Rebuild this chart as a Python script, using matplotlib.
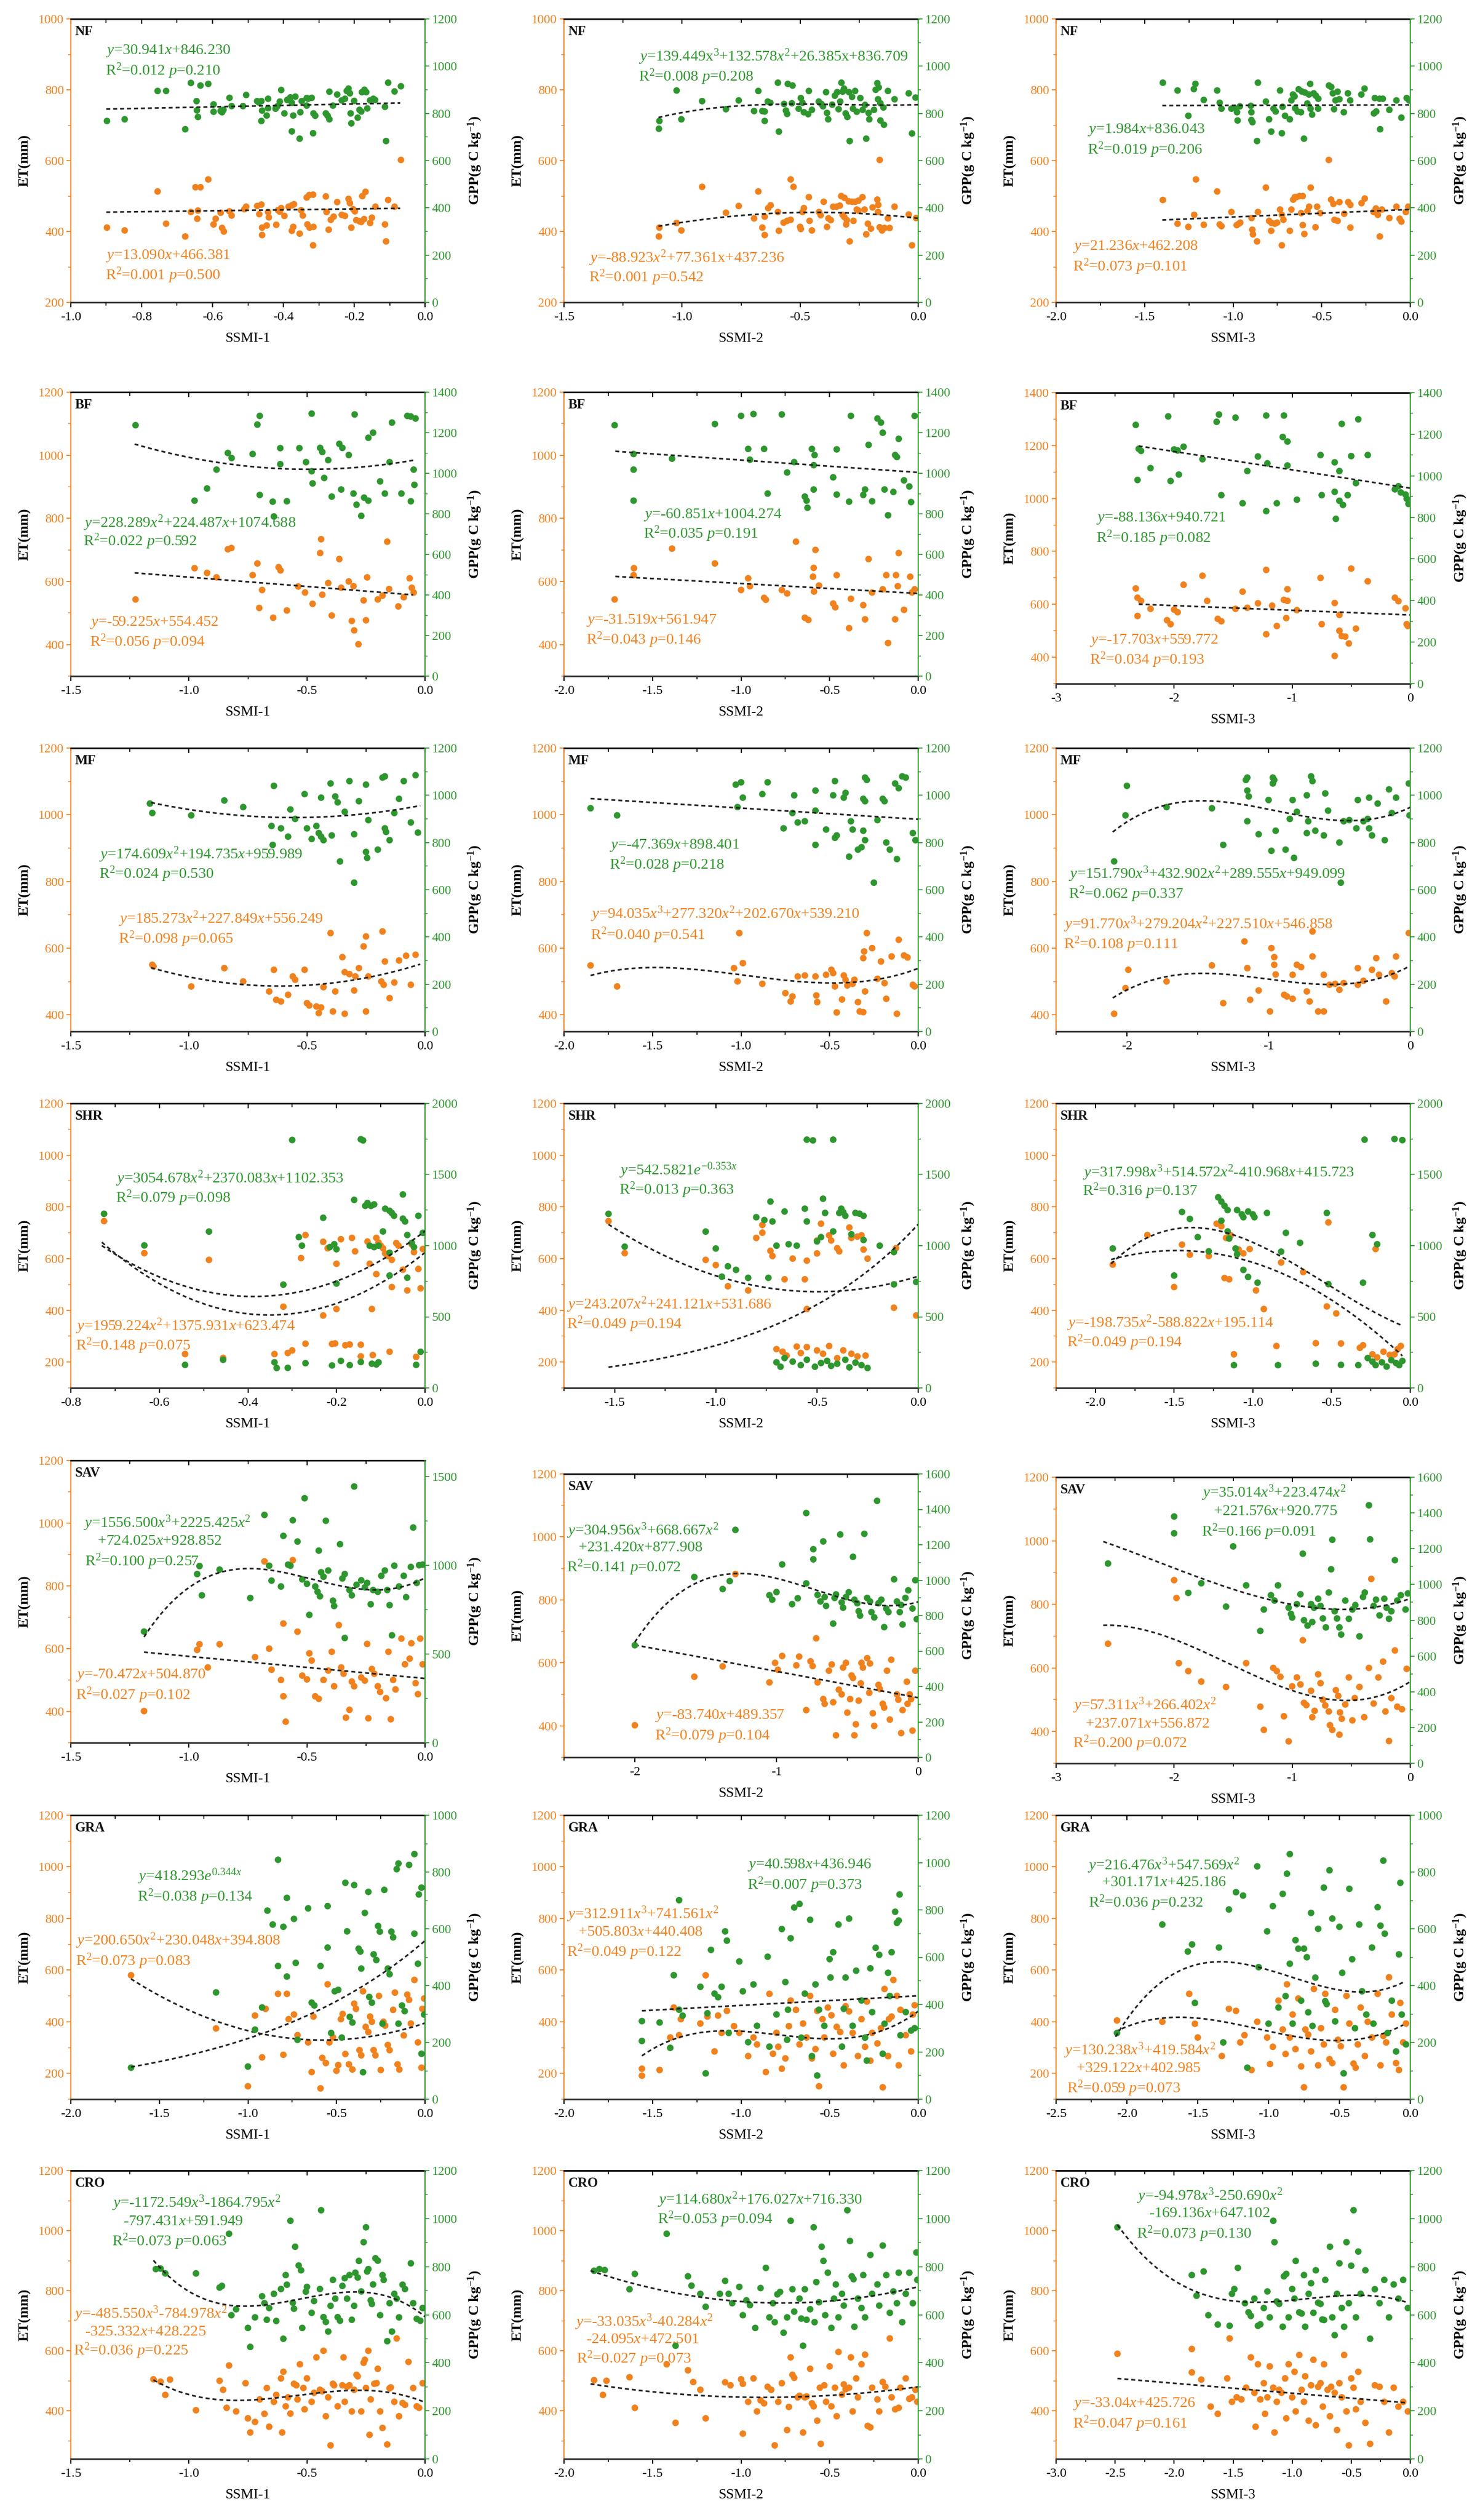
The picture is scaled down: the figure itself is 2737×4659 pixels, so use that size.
import numpy as np
import matplotlib
matplotlib.use('Agg')
import matplotlib.pyplot as plt
from matplotlib.ticker import MultipleLocator, FuncFormatter, NullFormatter

plt.rcParams['font.family'] = ['Liberation Serif', 'DejaVu Serif']
plt.rcParams['mathtext.fontset'] = 'custom'
plt.rcParams['mathtext.rm'] = 'Liberation Serif'
plt.rcParams['mathtext.it'] = 'Liberation Serif:italic'
plt.rcParams['mathtext.bf'] = 'Liberation Serif:bold'
plt.rcParams['axes.unicode_minus'] = False

ORANGE = '#F0821E'
GREEN = '#2E962E'

# ---------------- data: (SSMI, ET) and (SSMI, GPP) ----------------
nf1_et = np.array([[-0.898,411],[-0.848,403],[-0.755,513],[-0.731,422],[-0.677,386],[-0.661,455],[-0.648,525],[-0.634,525],[-0.641,459],[-0.643,436],[-0.612,547],[-0.597,420],[-0.591,436],[-0.577,453],[-0.573,410],[-0.568,400],[-0.552,457],[-0.546,445],[-0.51,463],[-0.505,470],[-0.474,472],[-0.462,476],[-0.468,449],[-0.46,411],[-0.46,390],[-0.447,417],[-0.443,455],[-0.441,440],[-0.42,419],[-0.415,460],[-0.41,456],[-0.406,466],[-0.397,444],[-0.385,470],[-0.376,474],[-0.37,477],[-0.376,402],[-0.372,413],[-0.354,394],[-0.35,460],[-0.345,445],[-0.334,496],[-0.327,503],[-0.316,504],[-0.332,420],[-0.326,411],[-0.315,413],[-0.316,361],[-0.28,499],[-0.278,455],[-0.272,405],[-0.266,433],[-0.258,442],[-0.248,483],[-0.235,447],[-0.226,444],[-0.216,492],[-0.212,480],[-0.208,411],[-0.203,463],[-0.198,457],[-0.194,432],[-0.185,429],[-0.18,427],[-0.172,435],[-0.177,500],[-0.168,512],[-0.155,424],[-0.15,439],[-0.14,470],[-0.113,420],[-0.11,372],[-0.104,489],[-0.086,470],[-0.068,602]])
nf1_gpp = np.array([[-0.898,768],[-0.848,775],[-0.755,895],[-0.731,895],[-0.677,733],[-0.661,929],[-0.645,852],[-0.644,813],[-0.641,785],[-0.634,918],[-0.612,925],[-0.597,838],[-0.597,807],[-0.577,810],[-0.573,805],[-0.569,815],[-0.552,866],[-0.546,831],[-0.514,831],[-0.505,878],[-0.474,852],[-0.469,846],[-0.462,852],[-0.46,812],[-0.462,768],[-0.447,791],[-0.443,862],[-0.443,822],[-0.422,820],[-0.417,830],[-0.41,850],[-0.406,899],[-0.397,800],[-0.389,857],[-0.385,860],[-0.38,868],[-0.376,845],[-0.376,724],[-0.372,791],[-0.366,871],[-0.354,693],[-0.352,805],[-0.348,852],[-0.334,865],[-0.33,862],[-0.32,866],[-0.334,833],[-0.315,800],[-0.31,790],[-0.316,716],[-0.28,800],[-0.275,790],[-0.27,775],[-0.27,892],[-0.26,833],[-0.248,880],[-0.235,855],[-0.226,862],[-0.221,895],[-0.216,905],[-0.212,885],[-0.21,800],[-0.208,758],[-0.2,853],[-0.19,782],[-0.185,815],[-0.18,808],[-0.178,890],[-0.171,900],[-0.166,890],[-0.163,821],[-0.155,855],[-0.146,862],[-0.141,857],[-0.113,828],[-0.11,683],[-0.104,930],[-0.086,893],[-0.068,915]])
nf2_et = np.array([[-1.098,386],[-1.096,411],[-1.023,424],[-1.003,403],[-0.915,526],[-0.814,453],[-0.76,472],[-0.695,437],[-0.677,513],[-0.66,411],[-0.65,442],[-0.65,390],[-0.635,466],[-0.625,474],[-0.594,455],[-0.59,402],[-0.57,425],[-0.555,430],[-0.54,433],[-0.54,547],[-0.528,526],[-0.5,413],[-0.497,407],[-0.49,455],[-0.484,466],[-0.463,497],[-0.46,430],[-0.45,403],[-0.42,455],[-0.413,446],[-0.4,484],[-0.386,413],[-0.38,437],[-0.37,432],[-0.36,470],[-0.346,470],[-0.332,473],[-0.326,500],[-0.312,495],[-0.32,447],[-0.313,441],[-0.302,432],[-0.305,420],[-0.29,372],[-0.294,485],[-0.28,484],[-0.267,484],[-0.253,487],[-0.274,430],[-0.26,462],[-0.253,459],[-0.236,497],[-0.227,462],[-0.22,392],[-0.213,422],[-0.2,408],[-0.193,468],[-0.173,490],[-0.169,475],[-0.17,455],[-0.163,602],[-0.163,412],[-0.153,403],[-0.142,410],[-0.128,437],[-0.121,410],[-0.1,470],[-0.04,448],[-0.026,361],[-0.009,438]])
nf2_gpp = np.array([[-1.098,735],[-1.096,768],[-1.023,897],[-1.003,775],[-0.915,852],[-0.814,818],[-0.76,855],[-0.695,810],[-0.677,895],[-0.66,810],[-0.65,808],[-0.65,768],[-0.637,850],[-0.626,845],[-0.594,930],[-0.59,723],[-0.568,840],[-0.56,812],[-0.555,798],[-0.552,925],[-0.532,918],[-0.535,843],[-0.506,820],[-0.497,865],[-0.49,845],[-0.484,805],[-0.463,895],[-0.466,797],[-0.45,815],[-0.421,850],[-0.41,840],[-0.403,830],[-0.39,890],[-0.386,802],[-0.381,775],[-0.364,837],[-0.353,875],[-0.343,890],[-0.337,818],[-0.33,850],[-0.325,930],[-0.32,892],[-0.314,905],[-0.307,800],[-0.3,785],[-0.29,683],[-0.293,890],[-0.28,870],[-0.267,895],[-0.276,820],[-0.26,807],[-0.245,865],[-0.235,815],[-0.225,836],[-0.22,693],[-0.21,802],[-0.207,775],[-0.187,815],[-0.18,900],[-0.173,928],[-0.167,910],[-0.17,860],[-0.16,843],[-0.16,770],[-0.145,752],[-0.147,825],[-0.128,895],[-0.1,860],[-0.04,885],[-0.026,715],[-0.011,867]])
nf3_et = np.array([[-1.397,489],[-1.314,422],[-1.253,413],[-1.22,447],[-1.21,547],[-1.166,419],[-1.09,513],[-1.076,420],[-1.066,415],[-1.01,455],[-0.98,418],[-0.968,422],[-0.96,425],[-0.896,438],[-0.892,405],[-0.888,392],[-0.865,372],[-0.86,455],[-0.815,524],[-0.797,430],[-0.783,424],[-0.785,402],[-0.765,422],[-0.752,425],[-0.735,462],[-0.725,447],[-0.725,361],[-0.716,433],[-0.68,402],[-0.671,462],[-0.661,490],[-0.652,497],[-0.643,497],[-0.625,500],[-0.607,500],[-0.616,452],[-0.607,418],[-0.598,393],[-0.58,458],[-0.571,470],[-0.562,524],[-0.535,412],[-0.526,470],[-0.508,452],[-0.46,602],[-0.447,490],[-0.434,478],[-0.428,433],[-0.41,430],[-0.4,483],[-0.373,450],[-0.35,483],[-0.338,475],[-0.338,411],[-0.275,480],[-0.257,493],[-0.207,455],[-0.194,465],[-0.183,447],[-0.172,386],[-0.16,462],[-0.118,438],[-0.078,470],[-0.06,436],[-0.05,428],[-0.025,455],[-0.011,470]])
nf3_gpp = np.array([[-1.397,930],[-1.314,897],[-1.253,790],[-1.222,903],[-1.213,925],[-1.166,857],[-1.09,897],[-1.076,845],[-1.066,820],[-1.01,820],[-0.992,822],[-0.978,805],[-0.975,770],[-0.962,830],[-0.9,832],[-0.897,805],[-0.897,772],[-0.891,763],[-0.865,683],[-0.86,930],[-0.815,850],[-0.797,775],[-0.785,723],[-0.772,820],[-0.76,808],[-0.735,897],[-0.725,716],[-0.721,828],[-0.707,790],[-0.68,775],[-0.671,855],[-0.662,880],[-0.653,872],[-0.65,822],[-0.636,808],[-0.617,805],[-0.63,902],[-0.612,893],[-0.594,888],[-0.6,693],[-0.581,842],[-0.572,880],[-0.565,925],[-0.563,820],[-0.554,795],[-0.545,885],[-0.533,875],[-0.519,862],[-0.52,820],[-0.459,918],[-0.446,912],[-0.437,885],[-0.422,855],[-0.43,818],[-0.41,892],[-0.4,860],[-0.375,805],[-0.352,885],[-0.339,855],[-0.276,880],[-0.258,905],[-0.205,800],[-0.192,808],[-0.2,865],[-0.173,862],[-0.155,862],[-0.17,733],[-0.118,815],[-0.078,855],[-0.05,782],[-0.02,865],[-0.006,855]])

bf1_et = np.array([[-1.226,543],[-0.976,642],[-0.923,627],[-0.883,613],[-0.835,702],[-0.82,706],[-0.73,620],[-0.71,657],[-0.702,516],[-0.69,573],[-0.643,485],[-0.62,645],[-0.612,635],[-0.585,508],[-0.537,584],[-0.508,565],[-0.476,529],[-0.444,690],[-0.44,734],[-0.435,558],[-0.41,595],[-0.395,492],[-0.363,671],[-0.355,580],[-0.323,600],[-0.303,585],[-0.31,475],[-0.3,445],[-0.282,401],[-0.26,540],[-0.25,477],[-0.245,613],[-0.2,543],[-0.18,555],[-0.16,726],[-0.152,576],[-0.113,521],[-0.09,550],[-0.065,610],[-0.056,580],[-0.048,565]])
bf1_gpp = np.array([[-1.226,1237],[-0.976,865],[-0.923,925],[-0.883,1018],[-0.835,1100],[-0.819,1075],[-0.73,1095],[-0.71,1240],[-0.7,1283],[-0.7,893],[-0.645,860],[-0.64,787],[-0.613,1045],[-0.613,1124],[-0.585,862],[-0.532,1124],[-0.504,1055],[-0.48,1010],[-0.476,950],[-0.48,1294],[-0.444,1125],[-0.435,1105],[-0.427,977],[-0.41,1065],[-0.395,885],[-0.363,1145],[-0.35,1125],[-0.355,920],[-0.323,1090],[-0.298,1290],[-0.303,900],[-0.29,845],[-0.27,790],[-0.258,880],[-0.24,865],[-0.24,1175],[-0.22,1200],[-0.19,960],[-0.17,900],[-0.15,1055],[-0.14,1250],[-0.1,900],[-0.075,1283],[-0.06,1280],[-0.06,862],[-0.048,1018],[-0.045,943],[-0.04,1270]])
bf2_et = np.array([[-1.714,543],[-1.607,620],[-1.605,642],[-1.39,704],[-1.148,657],[-1.0,573],[-0.96,610],[-0.95,585],[-0.87,548],[-0.86,542],[-0.77,573],[-0.74,562],[-0.69,726],[-0.64,485],[-0.62,478],[-0.59,643],[-0.594,615],[-0.588,568],[-0.58,700],[-0.56,587],[-0.48,530],[-0.468,518],[-0.46,620],[-0.39,452],[-0.38,545],[-0.31,525],[-0.3,480],[-0.28,671],[-0.26,565],[-0.2,575],[-0.18,620],[-0.17,405],[-0.13,480],[-0.125,620],[-0.115,585],[-0.11,690],[-0.08,510],[-0.045,615],[-0.035,565],[-0.02,575]])
bf2_gpp = np.array([[-1.714,1237],[-1.607,1095],[-1.607,1018],[-1.607,865],[-1.39,1072],[-1.148,1243],[-1.0,1283],[-0.93,1292],[-0.96,1120],[-0.87,1120],[-0.95,1067],[-0.85,900],[-0.77,1290],[-0.74,1004],[-0.7,1055],[-0.64,885],[-0.63,865],[-0.625,830],[-0.6,1120],[-0.585,1090],[-0.59,1040],[-0.59,920],[-0.48,980],[-0.46,1118],[-0.46,895],[-0.39,860],[-0.38,1283],[-0.31,893],[-0.3,920],[-0.28,1140],[-0.26,862],[-0.23,1270],[-0.21,1250],[-0.2,1200],[-0.19,920],[-0.17,793],[-0.14,908],[-0.13,1090],[-0.12,1080],[-0.11,1170],[-0.08,965],[-0.05,935],[-0.04,858],[-0.02,1283]])
bf3_et = np.array([[-2.325,660],[-2.31,625],[-2.28,613],[-2.31,556],[-2.2,583],[-2.06,540],[-2.03,525],[-2.0,580],[-1.97,570],[-1.92,674],[-1.76,708],[-1.63,545],[-1.6,536],[-1.72,613],[-1.42,648],[-1.38,587],[-1.48,583],[-1.29,604],[-1.22,730],[-1.22,487],[-1.17,595],[-1.13,518],[-1.07,617],[-1.04,657],[-1.04,613],[-1.05,548],[-0.96,578],[-0.76,700],[-0.75,525],[-0.64,605],[-0.6,560],[-0.58,480],[-0.64,405],[-0.6,500],[-0.55,478],[-0.52,452],[-0.5,735],[-0.46,508],[-0.36,687],[-0.13,625],[-0.1,612],[-0.04,585],[-0.03,525],[-0.02,518]])
bf3_gpp = np.array([[-2.325,1245],[-2.3,1130],[-2.28,1120],[-2.31,980],[-2.2,1037],[-2.05,1286],[-2.0,1127],[-1.97,1122],[-2.03,975],[-1.96,1006],[-1.92,1140],[-1.76,1080],[-1.64,1260],[-1.62,1295],[-1.6,907],[-1.48,1280],[-1.42,868],[-1.38,1023],[-1.29,1093],[-1.22,1290],[-1.22,830],[-1.21,1060],[-1.13,868],[-1.08,1187],[-1.04,1165],[-1.04,1050],[-0.96,885],[-1.07,1290],[-0.76,1100],[-0.75,907],[-0.64,1065],[-0.64,923],[-0.6,1023],[-0.6,880],[-0.57,860],[-0.58,1250],[-0.53,907],[-0.5,1095],[-0.63,793],[-0.44,1272],[-0.46,965],[-0.36,1100],[-0.13,935],[-0.1,950],[-0.08,920],[-0.04,910],[-0.03,890],[-0.015,865]])

mf1_et = np.array([[-1.155,550],[-1.15,545],[-0.99,485],[-0.85,540],[-0.77,500],[-0.66,470],[-0.64,535],[-0.63,445],[-0.61,440],[-0.58,460],[-0.56,515],[-0.55,505],[-0.51,535],[-0.5,435],[-0.49,428],[-0.46,425],[-0.45,405],[-0.44,422],[-0.43,483],[-0.4,645],[-0.39,410],[-0.38,470],[-0.35,573],[-0.34,528],[-0.32,522],[-0.34,403],[-0.3,473],[-0.295,515],[-0.28,540],[-0.26,605],[-0.25,635],[-0.25,410],[-0.24,515],[-0.18,650],[-0.185,500],[-0.175,490],[-0.17,560],[-0.15,450],[-0.13,497],[-0.11,563],[-0.08,577],[-0.06,490],[-0.04,580]])
mf1_gpp = np.array([[-1.165,965],[-1.155,925],[-0.99,915],[-0.85,978],[-0.77,950],[-0.64,1040],[-0.65,870],[-0.645,790],[-0.61,860],[-0.58,825],[-0.57,940],[-0.55,900],[-0.51,1005],[-0.5,860],[-0.48,815],[-0.46,870],[-0.45,840],[-0.44,825],[-0.44,990],[-0.43,810],[-0.4,1050],[-0.395,830],[-0.38,995],[-0.37,970],[-0.36,720],[-0.34,930],[-0.32,1060],[-0.3,630],[-0.3,835],[-0.28,975],[-0.25,1045],[-0.25,760],[-0.245,735],[-0.24,895],[-0.2,770],[-0.18,1075],[-0.17,1080],[-0.17,860],[-0.165,845],[-0.15,810],[-0.13,925],[-0.11,985],[-0.09,1060],[-0.06,885],[-0.04,1085],[-0.03,842]])
mf2_et = np.array([[-1.85,548],[-1.7,485],[-1.04,540],[-1.02,500],[-1.01,645],[-0.99,555],[-0.88,493],[-0.75,465],[-0.72,440],[-0.71,455],[-0.68,515],[-0.64,518],[-0.58,515],[-0.57,438],[-0.575,458],[-0.52,520],[-0.49,535],[-0.48,525],[-0.47,485],[-0.46,407],[-0.43,446],[-0.42,518],[-0.41,505],[-0.4,488],[-0.37,493],[-0.36,505],[-0.34,438],[-0.33,410],[-0.31,408],[-0.31,570],[-0.305,590],[-0.3,470],[-0.29,645],[-0.26,600],[-0.23,508],[-0.21,560],[-0.19,495],[-0.18,448],[-0.15,575],[-0.12,403],[-0.11,625],[-0.08,578],[-0.06,572],[-0.03,490],[-0.02,485]])
mf2_gpp = np.array([[-1.85,945],[-1.7,915],[-1.03,1045],[-1.0,1055],[-0.99,990],[-1.02,950],[-0.88,1005],[-0.85,1055],[-0.76,860],[-0.71,925],[-0.7,1000],[-0.68,885],[-0.64,890],[-0.58,935],[-0.58,1020],[-0.58,790],[-0.52,855],[-0.47,1060],[-0.48,1000],[-0.47,820],[-0.46,830],[-0.42,990],[-0.41,1010],[-0.39,740],[-0.38,890],[-0.37,855],[-0.34,770],[-0.31,985],[-0.3,975],[-0.3,1075],[-0.29,1065],[-0.31,850],[-0.3,810],[-0.32,780],[-0.25,630],[-0.23,895],[-0.2,985],[-0.19,975],[-0.18,800],[-0.16,770],[-0.13,1050],[-0.11,1030],[-0.12,730],[-0.09,1080],[-0.07,1075],[-0.03,840],[-0.015,810]])
mf3_et = np.array([[-2.09,403],[-2.01,480],[-1.99,535],[-1.72,500],[-1.4,548],[-1.32,435],[-1.17,620],[-1.15,540],[-1.13,445],[-1.07,473],[-0.99,410],[-0.98,600],[-0.96,573],[-0.95,521],[-0.96,550],[-0.89,460],[-0.87,455],[-0.83,448],[-0.83,520],[-0.8,550],[-0.77,543],[-0.73,470],[-0.71,440],[-0.69,575],[-0.69,650],[-0.65,410],[-0.61,410],[-0.61,520],[-0.57,490],[-0.53,493],[-0.5,475],[-0.47,495],[-0.37,490],[-0.33,502],[-0.37,540],[-0.27,535],[-0.24,570],[-0.22,520],[-0.17,440],[-0.13,525],[-0.11,515],[-0.1,575],[-0.01,645]])
mf3_gpp = np.array([[-2.09,720],[-2.01,915],[-2.0,1040],[-1.72,950],[-1.4,945],[-1.32,790],[-1.16,1065],[-1.15,1075],[-1.15,1020],[-1.14,995],[-1.15,890],[-1.07,835],[-0.98,765],[-1.0,980],[-0.97,1075],[-0.96,1065],[-0.97,1050],[-0.95,850],[-0.88,770],[-0.85,900],[-0.83,980],[-0.82,735],[-0.8,930],[-0.73,840],[-0.72,890],[-0.73,1000],[-0.7,1080],[-0.69,1060],[-0.67,850],[-0.61,830],[-0.6,1008],[-0.58,935],[-0.5,800],[-0.49,630],[-0.47,890],[-0.43,895],[-0.38,860],[-0.37,980],[-0.33,890],[-0.3,900],[-0.29,860],[-0.27,830],[-0.29,990],[-0.23,965],[-0.18,810],[-0.15,1025],[-0.13,925],[-0.1,990],[-0.01,1050],[-0.005,915]])

shr1_et = np.array([[-0.725,745],[-0.634,621],[-0.488,595],[-0.542,231],[-0.456,216],[-0.34,231],[-0.32,414],[-0.31,235],[-0.3,245],[-0.28,602],[-0.27,691],[-0.27,271],[-0.23,380],[-0.23,665],[-0.22,640],[-0.21,270],[-0.203,272],[-0.2,405],[-0.2,580],[-0.19,675],[-0.18,265],[-0.17,268],[-0.165,680],[-0.158,628],[-0.145,267],[-0.145,222],[-0.13,666],[-0.125,580],[-0.12,405],[-0.118,227],[-0.11,680],[-0.105,662],[-0.11,540],[-0.1,650],[-0.095,640],[-0.09,620],[-0.085,610],[-0.075,595],[-0.08,240],[-0.075,490],[-0.065,660],[-0.06,650],[-0.05,557],[-0.04,477],[-0.03,655],[-0.025,625],[-0.02,220],[-0.015,560],[-0.01,485],[-0.005,637]])
shr1_gpp = np.array([[-0.725,1224],[-0.634,1002],[-0.488,1099],[-0.542,162],[-0.456,198],[-0.34,180],[-0.335,140],[-0.32,726],[-0.31,141],[-0.3,1743],[-0.285,1060],[-0.278,1000],[-0.27,174],[-0.23,1196],[-0.215,990],[-0.205,1010],[-0.2,975],[-0.21,158],[-0.2,734],[-0.19,190],[-0.17,160],[-0.16,1322],[-0.145,1748],[-0.14,1740],[-0.145,182],[-0.135,1280],[-0.13,1300],[-0.122,1280],[-0.115,1290],[-0.125,1000],[-0.115,990],[-0.105,1000],[-0.12,170],[-0.11,165],[-0.105,180],[-0.095,1100],[-0.09,1260],[-0.08,1245],[-0.075,1230],[-0.07,1210],[-0.08,950],[-0.08,790],[-0.05,1190],[-0.045,1170],[-0.05,1360],[-0.04,1075],[-0.04,775],[-0.03,1020],[-0.025,990],[-0.02,162],[-0.015,1210],[-0.01,254],[-0.005,1090]])
shr2_et = np.array([[-1.53,745],[-1.45,621],[-1.05,595],[-1.0,575],[-0.94,493],[-0.84,477],[-0.8,680],[-0.77,700],[-0.73,630],[-0.72,610],[-0.77,730],[-0.66,520],[-0.62,600],[-0.56,520],[-0.55,592],[-0.55,405],[-0.5,670],[-0.5,620],[-0.48,735],[-0.44,690],[-0.43,670],[-0.4,640],[-0.39,628],[-0.34,720],[-0.33,680],[-0.3,685],[-0.28,690],[-0.27,635],[-0.25,600],[-0.12,410],[-0.11,640],[-0.7,250],[-0.67,240],[-0.65,225],[-0.6,260],[-0.58,235],[-0.55,258],[-0.5,245],[-0.47,232],[-0.44,262],[-0.4,215],[-0.37,245],[-0.33,232],[-0.3,222],[-0.26,225],[-0.01,380]])
shr2_gpp = np.array([[-1.53,1224],[-1.45,993],[-1.05,1099],[-1.0,980],[-0.97,782],[-0.94,855],[-0.9,830],[-0.84,774],[-0.8,1200],[-0.76,1180],[-0.73,1310],[-0.72,1170],[-0.7,1000],[-0.74,774],[-0.66,1240],[-0.64,1010],[-0.6,1000],[-0.55,1745],[-0.52,1740],[-0.56,1260],[-0.55,1170],[-0.5,1030],[-0.48,1060],[-0.47,1330],[-0.46,1230],[-0.42,1745],[-0.42,1100],[-0.39,1230],[-0.38,1260],[-0.37,1235],[-0.36,1210],[-0.33,1080],[-0.31,1230],[-0.29,1225],[-0.27,1210],[-0.27,1040],[-0.19,1000],[-0.12,955],[-0.12,728],[-0.01,745],[-0.7,180],[-0.68,149],[-0.66,210],[-0.62,185],[-0.58,160],[-0.55,198],[-0.51,149],[-0.48,175],[-0.45,190],[-0.43,155],[-0.4,170],[-0.36,198],[-0.34,145],[-0.31,178],[-0.28,160],[-0.25,140]])
shr3_et = np.array([[-1.89,577],[-1.67,691],[-1.5,490],[-1.45,654],[-1.4,615],[-1.28,610],[-1.23,735],[-1.2,725],[-1.18,525],[-1.15,520],[-1.17,680],[-1.14,690],[-1.09,635],[-1.06,620],[-1.02,637],[-0.98,477],[-0.93,405],[-0.85,262],[-0.82,585],[-0.68,548],[-0.6,273],[-0.53,415],[-0.52,740],[-0.47,388],[-0.44,272],[-1.12,230],[-0.32,255],[-0.3,265],[-0.22,637],[-0.24,230],[-0.21,218],[-0.17,240],[-0.13,228],[-0.1,230],[-0.08,250],[-0.06,262]])
shr3_gpp = np.array([[-1.89,980],[-1.5,790],[-1.45,1237],[-1.4,1188],[-1.35,1060],[-1.28,960],[-1.22,1340],[-1.2,1310],[-1.18,1280],[-1.16,1250],[-1.2,1175],[-1.16,1100],[-1.15,1050],[-1.1,1250],[-1.07,1220],[-1.06,1200],[-1.03,1240],[-1.0,1220],[-0.99,1200],[-1.11,980],[-1.1,940],[-1.06,830],[-1.03,780],[-0.97,740],[-0.91,1230],[-0.82,958],[-0.79,1090],[-0.7,1020],[-0.53,1230],[-0.52,730],[-0.3,740],[-0.29,1745],[-0.24,1075],[-0.21,1010],[-0.1,1750],[-0.05,1742],[-1.12,160],[-0.84,160],[-0.6,170],[-0.44,162],[-0.33,160],[-0.27,210],[-0.24,185],[-0.22,160],[-0.18,180],[-0.15,150],[-0.12,195],[-0.09,175],[-0.07,160],[-0.05,190]])

sav1_et = np.array([[-1.19,401],[-0.965,596],[-0.955,614],[-0.92,540],[-0.87,614],[-0.72,573],[-0.68,878],[-0.66,600],[-0.65,533],[-0.61,500],[-0.6,448],[-0.6,680],[-0.59,367],[-0.56,882],[-0.54,654],[-0.52,514],[-0.5,502],[-0.49,585],[-0.48,562],[-0.465,448],[-0.45,440],[-0.43,500],[-0.41,530],[-0.395,590],[-0.385,480],[-0.365,675],[-0.355,540],[-0.345,520],[-0.335,380],[-0.32,405],[-0.31,495],[-0.3,480],[-0.27,508],[-0.255,498],[-0.245,615],[-0.24,378],[-0.225,535],[-0.215,520],[-0.2,480],[-0.19,462],[-0.165,442],[-0.155,590],[-0.145,375],[-0.135,500],[-0.125,470],[-0.1,632],[-0.085,550],[-0.065,568],[-0.058,617],[-0.04,490],[-0.03,455],[-0.02,632],[-0.01,550]])
sav1_gpp = np.array([[-1.19,626],[-0.965,950],[-0.955,995],[-0.945,830],[-0.87,975],[-0.74,815],[-0.68,1283],[-0.66,997],[-0.65,913],[-0.61,880],[-0.6,1165],[-0.58,1003],[-0.57,997],[-0.56,1253],[-0.54,1133],[-0.52,920],[-0.5,895],[-0.51,1377],[-0.49,720],[-0.465,880],[-0.455,850],[-0.445,825],[-0.45,1082],[-0.44,960],[-0.43,935],[-0.42,1250],[-0.41,970],[-0.39,800],[-0.385,770],[-0.36,1118],[-0.35,925],[-0.34,950],[-0.34,590],[-0.32,860],[-0.31,830],[-0.3,1443],[-0.29,890],[-0.27,915],[-0.255,875],[-0.245,900],[-0.23,780],[-0.22,860],[-0.2,850],[-0.185,940],[-0.17,970],[-0.16,860],[-0.15,775],[-0.14,605],[-0.13,997],[-0.11,880],[-0.09,940],[-0.08,820],[-0.06,990],[-0.05,1212],[-0.035,900],[-0.025,1000],[-0.01,1003]])
sav2_et = np.array([[-2.0,402],[-1.58,556],[-1.38,589],[-1.29,882],[-1.05,538],[-1.01,600],[-0.99,578],[-0.96,622],[-0.86,592],[-0.84,620],[-0.79,450],[-0.76,605],[-0.745,590],[-0.72,678],[-0.71,538],[-0.67,485],[-0.66,470],[-0.63,575],[-0.61,595],[-0.6,475],[-0.58,370],[-0.56,515],[-0.54,500],[-0.53,585],[-0.51,600],[-0.5,442],[-0.48,485],[-0.47,560],[-0.46,552],[-0.45,370],[-0.44,405],[-0.42,480],[-0.405,535],[-0.4,600],[-0.39,585],[-0.36,615],[-0.34,598],[-0.345,505],[-0.32,440],[-0.31,400],[-0.28,530],[-0.27,517],[-0.25,470],[-0.24,458],[-0.22,575],[-0.2,420],[-0.19,610],[-0.15,500],[-0.14,483],[-0.12,377],[-0.11,450],[-0.08,540],[-0.075,470],[-0.06,500],[-0.05,485],[-0.04,385],[-0.02,575]])
sav2_gpp = np.array([[-2.0,633],[-1.58,1018],[-1.38,950],[-1.33,995],[-1.29,1284],[-1.05,915],[-1.03,890],[-1.0,933],[-0.96,1089],[-0.89,865],[-0.85,898],[-0.79,1379],[-0.79,982],[-0.74,1175],[-0.74,1118],[-0.71,917],[-0.69,880],[-0.67,1219],[-0.66,905],[-0.65,855],[-0.6,755],[-0.59,900],[-0.58,920],[-0.55,1258],[-0.54,875],[-0.53,845],[-0.51,905],[-0.49,932],[-0.46,1132],[-0.45,890],[-0.43,870],[-0.42,825],[-0.41,800],[-0.38,1262],[-0.36,900],[-0.34,880],[-0.33,820],[-0.31,790],[-0.29,1448],[-0.28,870],[-0.26,890],[-0.24,735],[-0.225,840],[-0.21,820],[-0.17,1005],[-0.15,880],[-0.13,820],[-0.12,860],[-0.11,750],[-0.09,900],[-0.07,943],[-0.04,840],[-0.02,1000],[-0.01,780]])
sav3_et = np.array([[-2.56,676],[-2.0,876],[-1.98,820],[-1.96,615],[-1.88,590],[-1.77,557],[-1.56,540],[-1.39,615],[-1.27,478],[-1.24,405],[-1.16,600],[-1.13,590],[-1.1,572],[-1.07,448],[-1.03,369],[-1.0,542],[-0.96,570],[-0.93,548],[-0.91,687],[-0.9,490],[-0.88,483],[-0.84,528],[-0.83,445],[-0.81,465],[-0.78,580],[-0.76,552],[-0.74,500],[-0.72,482],[-0.69,463],[-0.68,420],[-0.66,405],[-0.63,530],[-0.61,512],[-0.6,390],[-0.595,460],[-0.58,440],[-0.55,485],[-0.52,570],[-0.49,435],[-0.47,505],[-0.43,540],[-0.39,445],[-0.35,600],[-0.33,880],[-0.31,488],[-0.27,570],[-0.23,620],[-0.21,463],[-0.18,370],[-0.16,505],[-0.13,655],[-0.11,478],[-0.07,470],[-0.03,597]])
sav3_gpp = np.array([[-2.56,1117],[-2.0,1380],[-2.0,1286],[-1.88,953],[-1.77,1007],[-1.56,876],[-1.5,1213],[-1.39,995],[-1.27,740],[-1.24,860],[-1.18,940],[-1.15,910],[-1.12,995],[-1.03,870],[-1.01,835],[-1.0,815],[-0.96,890],[-0.93,945],[-0.91,1172],[-0.9,800],[-0.87,770],[-0.84,890],[-0.83,790],[-0.815,870],[-0.78,920],[-0.76,880],[-0.74,810],[-0.715,760],[-0.69,955],[-0.67,1085],[-0.66,1250],[-0.64,850],[-0.62,810],[-0.6,760],[-0.585,720],[-0.55,910],[-0.52,808],[-0.49,860],[-0.465,885],[-0.43,710],[-0.4,930],[-0.385,955],[-0.35,1443],[-0.34,1252],[-0.31,880],[-0.29,915],[-0.26,827],[-0.22,920],[-0.2,870],[-0.18,808],[-0.16,850],[-0.13,1136],[-0.11,910],[-0.08,940],[-0.04,860],[-0.02,950]])

gra1_et = np.array([[-1.66,580],[-1.18,374],[-1.0,150],[-0.96,424],[-0.92,262],[-0.9,450],[-0.83,508],[-0.8,272],[-0.78,508],[-0.77,410],[-0.74,428],[-0.72,348],[-0.66,320],[-0.64,205],[-0.63,420],[-0.59,142],[-0.58,260],[-0.56,240],[-0.55,545],[-0.54,320],[-0.52,340],[-0.5,210],[-0.49,232],[-0.475,410],[-0.465,430],[-0.45,275],[-0.43,235],[-0.41,215],[-0.4,470],[-0.39,450],[-0.37,290],[-0.36,270],[-0.35,518],[-0.335,380],[-0.32,360],[-0.31,420],[-0.3,400],[-0.29,290],[-0.28,270],[-0.26,500],[-0.25,213],[-0.235,400],[-0.225,385],[-0.21,310],[-0.2,290],[-0.18,446],[-0.17,513],[-0.155,235],[-0.145,215],[-0.12,347],[-0.1,505],[-0.09,485],[-0.08,393],[-0.06,562],[-0.04,320],[-0.02,222],[-0.015,450],[-0.005,490]])
gra1_gpp = np.array([[-1.66,111],[-1.18,376],[-1.0,115],[-0.96,245],[-0.92,323],[-0.89,664],[-0.86,615],[-0.83,843],[-0.83,469],[-0.8,607],[-0.78,709],[-0.78,432],[-0.74,635],[-0.73,480],[-0.72,209],[-0.66,672],[-0.64,340],[-0.625,330],[-0.59,469],[-0.55,534],[-0.55,680],[-0.53,233],[-0.51,380],[-0.49,385],[-0.47,217],[-0.45,762],[-0.44,591],[-0.425,290],[-0.41,270],[-0.4,754],[-0.375,530],[-0.365,520],[-0.36,460],[-0.35,95],[-0.34,656],[-0.32,730],[-0.315,360],[-0.3,340],[-0.29,510],[-0.275,490],[-0.265,610],[-0.255,590],[-0.24,266],[-0.23,737],[-0.21,460],[-0.2,440],[-0.19,590],[-0.18,570],[-0.16,810],[-0.15,830],[-0.15,266],[-0.13,330],[-0.115,310],[-0.09,825],[-0.06,583],[-0.06,863],[-0.04,477],[-0.035,721],[-0.02,745],[-0.02,160],[-0.005,298]])
gra2_et = np.array([[-1.56,218],[-1.56,191],[-1.46,213],[-1.4,339],[-1.38,455],[-1.35,348],[-1.34,410],[-1.23,393],[-1.2,580],[-1.19,420],[-1.15,285],[-1.13,424],[-1.11,357],[-1.08,442],[-1.04,383],[-1.01,357],[-0.96,267],[-0.93,339],[-0.91,312],[-0.86,205],[-0.84,508],[-0.82,276],[-0.8,357],[-0.79,303],[-0.77,218],[-0.75,258],[-0.73,383],[-0.72,482],[-0.69,446],[-0.67,312],[-0.65,393],[-0.63,339],[-0.61,500],[-0.6,258],[-0.58,294],[-0.57,442],[-0.56,150],[-0.54,410],[-0.53,339],[-0.51,455],[-0.49,425],[-0.48,276],[-0.46,380],[-0.44,360],[-0.42,231],[-0.41,460],[-0.39,440],[-0.37,357],[-0.34,267],[-0.32,410],[-0.3,303],[-0.29,478],[-0.27,249],[-0.26,357],[-0.23,316],[-0.21,375],[-0.2,146],[-0.19,527],[-0.17,267],[-0.165,410],[-0.15,420],[-0.14,562],[-0.12,500],[-0.11,231],[-0.1,446],[-0.07,348],[-0.04,285],[-0.03,428],[-0.02,464]])
gra2_gpp = np.array([[-1.56,330],[-1.56,246],[-1.46,324],[-1.4,217],[-1.38,524],[-1.35,841],[-1.35,378],[-1.33,353],[-1.23,475],[-1.2,109],[-1.19,363],[-1.17,631],[-1.15,446],[-1.13,431],[-1.11,475],[-1.09,709],[-1.08,670],[-1.07,280],[-1.01,582],[-0.99,456],[-0.96,241],[-0.93,485],[-0.91,310],[-0.85,602],[-0.84,222],[-0.8,358],[-0.77,719],[-0.75,495],[-0.74,251],[-0.735,378],[-0.72,680],[-0.7,810],[-0.67,825],[-0.66,260],[-0.64,446],[-0.61,758],[-0.6,182],[-0.58,485],[-0.57,100],[-0.56,378],[-0.53,310],[-0.5,592],[-0.495,514],[-0.48,621],[-0.45,738],[-0.43,222],[-0.42,382],[-0.41,514],[-0.39,763],[-0.37,310],[-0.35,543],[-0.32,417],[-0.3,260],[-0.29,163],[-0.27,553],[-0.26,368],[-0.24,640],[-0.22,610],[-0.2,192],[-0.19,319],[-0.17,534],[-0.16,436],[-0.15,621],[-0.13,792],[-0.12,745],[-0.11,755],[-0.105,865],[-0.1,270],[-0.07,368],[-0.04,290],[-0.02,300]])
gra3_et = np.array([[-2.07,405],[-1.75,400],[-1.56,508],[-1.52,392],[-1.5,339],[-1.33,267],[-1.28,450],[-1.23,442],[-1.2,320],[-1.17,348],[-1.12,213],[-1.08,400],[-1.01,339],[-0.99,236],[-0.97,303],[-0.93,482],[-0.9,370],[-0.88,275],[-0.87,545],[-0.85,339],[-0.83,428],[-0.81,294],[-0.79,490],[-0.77,227],[-0.75,146],[-0.74,370],[-0.72,350],[-0.7,285],[-0.68,527],[-0.65,231],[-0.63,375],[-0.61,312],[-0.6,508],[-0.57,255],[-0.55,240],[-0.53,446],[-0.51,330],[-0.49,305],[-0.47,146],[-0.45,500],[-0.43,393],[-0.4,238],[-0.385,222],[-0.37,312],[-0.35,455],[-0.32,267],[-0.3,400],[-0.27,339],[-0.23,508],[-0.21,231],[-0.19,345],[-0.17,320],[-0.15,572],[-0.13,428],[-0.1,240],[-0.08,213],[-0.07,473],[-0.05,320],[-0.03,393]])
gra3_gpp = np.array([[-2.07,233],[-1.75,615],[-1.57,520],[-1.54,545],[-1.52,339],[-1.35,534],[-1.32,200],[-1.28,668],[-1.23,729],[-1.18,717],[-1.15,111],[-1.08,820],[-1.07,465],[-1.01,591],[-1.0,266],[-0.97,680],[-0.93,323],[-0.9,723],[-0.88,363],[-0.87,794],[-0.85,863],[-0.85,477],[-0.83,266],[-0.81,560],[-0.79,530],[-0.77,347],[-0.75,530],[-0.73,500],[-0.72,306],[-0.7,656],[-0.69,258],[-0.67,428],[-0.65,600],[-0.61,745],[-0.6,345],[-0.59,335],[-0.57,806],[-0.55,636],[-0.53,274],[-0.5,607],[-0.48,445],[-0.47,91],[-0.43,741],[-0.41,493],[-0.39,250],[-0.36,615],[-0.34,380],[-0.31,298],[-0.27,534],[-0.26,266],[-0.23,676],[-0.21,611],[-0.19,840],[-0.18,583],[-0.16,233],[-0.13,347],[-0.1,168],[-0.08,510],[-0.07,762],[-0.06,298],[-0.03,193]])

cro1_et = np.array([[-1.15,505],[-1.12,497],[-1.1,453],[-1.08,504],[-0.97,402],[-0.87,500],[-0.855,470],[-0.84,410],[-0.83,551],[-0.8,398],[-0.76,492],[-0.75,375],[-0.74,328],[-0.72,363],[-0.7,438],[-0.68,390],[-0.67,476],[-0.66,347],[-0.64,430],[-0.63,453],[-0.61,508],[-0.605,328],[-0.6,530],[-0.59,415],[-0.58,445],[-0.57,391],[-0.555,490],[-0.545,485],[-0.54,438],[-0.53,555],[-0.515,476],[-0.51,405],[-0.5,508],[-0.48,430],[-0.47,460],[-0.46,578],[-0.445,470],[-0.435,465],[-0.43,600],[-0.42,382],[-0.41,445],[-0.4,285],[-0.39,490],[-0.385,485],[-0.37,415],[-0.35,485],[-0.345,578],[-0.34,430],[-0.33,480],[-0.32,485],[-0.31,398],[-0.3,470],[-0.29,520],[-0.285,515],[-0.27,398],[-0.26,560],[-0.255,570],[-0.25,476],[-0.24,600],[-0.235,320],[-0.23,438],[-0.215,490],[-0.205,492],[-0.2,540],[-0.19,398],[-0.18,343],[-0.16,288],[-0.15,475],[-0.145,478],[-0.13,430],[-0.12,641],[-0.11,382],[-0.095,426],[-0.085,420],[-0.07,563],[-0.05,476],[-0.035,415],[-0.025,410],[-0.01,492]])
cro1_gpp = np.array([[-1.14,790],[-1.12,792],[-1.1,772],[-0.97,772],[-0.87,713],[-0.86,720],[-0.83,937],[-0.82,598],[-0.8,623],[-0.75,545],[-0.74,466],[-0.72,589],[-0.69,677],[-0.68,648],[-0.67,579],[-0.66,628],[-0.64,687],[-0.63,574],[-0.61,707],[-0.6,500],[-0.59,765],[-0.585,725],[-0.57,991],[-0.56,650],[-0.555,625],[-0.55,883],[-0.535,805],[-0.525,785],[-0.52,545],[-0.505,696],[-0.5,716],[-0.48,608],[-0.47,657],[-0.445,707],[-0.44,1035],[-0.43,590],[-0.42,570],[-0.41,530],[-0.4,637],[-0.39,745],[-0.38,667],[-0.37,590],[-0.36,575],[-0.35,720],[-0.34,752],[-0.33,667],[-0.32,765],[-0.31,579],[-0.3,637],[-0.295,775],[-0.285,755],[-0.28,824],[-0.27,697],[-0.26,902],[-0.25,964],[-0.245,780],[-0.24,790],[-0.23,660],[-0.225,645],[-0.22,726],[-0.21,835],[-0.2,825],[-0.19,598],[-0.18,765],[-0.175,745],[-0.16,490],[-0.15,648],[-0.14,530],[-0.13,687],[-0.12,667],[-0.11,589],[-0.095,725],[-0.085,707],[-0.06,814],[-0.05,648],[-0.035,583],[-0.02,575],[-0.01,628]])
cro2_et = np.array([[-1.83,502],[-1.76,500],[-1.78,453],[-1.63,512],[-1.6,410],[-1.42,555],[-1.37,360],[-1.3,535],[-1.27,496],[-1.23,470],[-1.2,375],[-1.09,495],[-1.06,485],[-1.0,505],[-0.99,490],[-0.99,324],[-0.96,430],[-0.93,508],[-0.91,398],[-0.89,435],[-0.87,425],[-0.85,480],[-0.83,470],[-0.81,285],[-0.79,430],[-0.77,492],[-0.74,336],[-0.73,413],[-0.72,578],[-0.71,520],[-0.7,510],[-0.68,445],[-0.67,450],[-0.65,328],[-0.64,445],[-0.63,448],[-0.61,540],[-0.6,425],[-0.59,415],[-0.57,367],[-0.555,477],[-0.55,290],[-0.53,485],[-0.52,430],[-0.5,548],[-0.49,415],[-0.47,477],[-0.46,382],[-0.45,596],[-0.43,454],[-0.42,488],[-0.41,472],[-0.39,477],[-0.38,578],[-0.37,398],[-0.35,508],[-0.34,445],[-0.32,555],[-0.3,587],[-0.285,350],[-0.27,345],[-0.26,477],[-0.23,438],[-0.22,398],[-0.2,496],[-0.185,480],[-0.16,641],[-0.15,445],[-0.13,405],[-0.11,410],[-0.1,477],[-0.07,508],[-0.05,440],[-0.035,445],[-0.015,470],[-0.005,430]])
cro2_gpp = np.array([[-1.83,783],[-1.8,790],[-1.77,786],[-1.63,706],[-1.6,770],[-1.42,937],[-1.37,471],[-1.3,760],[-1.28,721],[-1.23,687],[-1.2,633],[-1.12,687],[-1.09,741],[-1.07,687],[-1.05,648],[-1.01,716],[-0.99,598],[-0.97,660],[-0.95,640],[-0.92,545],[-0.89,711],[-0.86,795],[-0.84,589],[-0.82,648],[-0.81,569],[-0.795,685],[-0.78,695],[-0.76,525],[-0.74,589],[-0.72,991],[-0.71,706],[-0.7,613],[-0.67,667],[-0.66,584],[-0.65,471],[-0.64,706],[-0.63,579],[-0.61,623],[-0.59,964],[-0.585,569],[-0.575,736],[-0.56,652],[-0.545,883],[-0.535,824],[-0.525,598],[-0.51,775],[-0.49,545],[-0.475,667],[-0.465,726],[-0.45,589],[-0.43,687],[-0.42,638],[-0.4,1035],[-0.385,907],[-0.375,760],[-0.365,748],[-0.36,550],[-0.34,667],[-0.32,628],[-0.31,765],[-0.3,589],[-0.27,849],[-0.26,687],[-0.23,726],[-0.22,638],[-0.2,888],[-0.18,765],[-0.16,608],[-0.14,697],[-0.12,648],[-0.11,775],[-0.09,569],[-0.07,687],[-0.05,775],[-0.03,648],[-0.01,859],[-0.005,745]])
cro3_et = np.array([[-2.48,590],[-1.85,606],[-1.85,528],[-1.77,504],[-1.69,414],[-1.63,390],[-1.55,508],[-1.53,641],[-1.51,430],[-1.47,445],[-1.43,438],[-1.39,477],[-1.35,578],[-1.32,460],[-1.31,347],[-1.29,555],[-1.27,438],[-1.24,492],[-1.23,390],[-1.21,445],[-1.19,548],[-1.16,477],[-1.15,328],[-1.13,430],[-1.11,470],[-1.09,460],[-1.06,508],[-1.05,375],[-1.03,555],[-1.0,445],[-0.98,530],[-0.97,398],[-0.94,586],[-0.92,470],[-0.9,430],[-0.89,515],[-0.86,367],[-0.84,485],[-0.82,570],[-0.8,352],[-0.78,480],[-0.76,492],[-0.74,414],[-0.73,555],[-0.7,470],[-0.67,480],[-0.64,460],[-0.68,382],[-0.62,336],[-0.6,492],[-0.58,445],[-0.56,586],[-0.54,398],[-0.52,285],[-0.5,508],[-0.48,477],[-0.46,405],[-0.44,530],[-0.42,430],[-0.38,360],[-0.34,290],[-0.3,485],[-0.26,480],[-0.22,430],[-0.18,328],[-0.14,477],[-0.1,414],[-0.06,430],[-0.02,398]])
cro3_gpp = np.array([[-2.48,964],[-1.85,765],[-1.81,679],[-1.75,780],[-1.71,598],[-1.63,559],[-1.53,554],[-1.51,687],[-1.49,707],[-1.46,795],[-1.4,648],[-1.37,610],[-1.35,595],[-1.32,667],[-1.29,554],[-1.27,560],[-1.24,628],[-1.21,697],[-1.19,589],[-1.16,991],[-1.15,902],[-1.13,655],[-1.11,645],[-1.08,550],[-1.07,760],[-1.05,770],[-1.03,589],[-1.0,707],[-0.98,667],[-0.97,824],[-0.94,610],[-0.92,605],[-0.9,765],[-0.89,550],[-0.86,687],[-0.84,731],[-0.82,608],[-0.8,785],[-0.78,650],[-0.76,645],[-0.745,580],[-0.73,578],[-0.72,745],[-0.68,883],[-0.66,589],[-0.64,515],[-0.62,687],[-0.6,814],[-0.58,628],[-0.56,550],[-0.54,902],[-0.52,648],[-0.5,804],[-0.48,1035],[-0.46,589],[-0.44,863],[-0.42,687],[-0.38,785],[-0.34,500],[-0.3,706],[-0.26,648],[-0.22,745],[-0.18,589],[-0.14,726],[-0.1,667],[-0.06,745],[-0.02,628]])

# fitted curves (poly coefficients high->low, or exp a*e^(b*x)), with their SSMI span
fits = {
    'nf1': (('poly', [13.090, 466.381]), ('poly', [30.941, 846.230]), (-0.9, -0.07)),
    'nf2': (('poly', [-88.923, -77.361, 437.236]), ('poly', [139.449, 132.578, 26.385, 836.709]), (-1.1, 0)),
    'nf3': (('poly', [21.236, 462.208]), ('poly', [1.984, 836.043]), (-1.4, 0)),
    'bf1': (('poly', [-59.225, 554.452]), ('poly', [228.289, 224.487, 1074.688]), (-1.23, -0.05)),
    'bf2': (('poly', [-31.519, 561.947]), ('poly', [-60.851, 1004.274]), (-1.71, 0)),
    'bf3': (('poly', [-17.703, 559.772]), ('poly', [-88.136, 940.721]), (-2.3, 0)),
    'mf1': (('poly', [185.273, 227.849, 556.249]), ('poly', [174.609, 194.735, 959.989]), (-1.16, -0.02)),
    'mf2': (('poly', [94.035, 277.320, 202.670, 539.210]), ('poly', [-47.369, 898.401]), (-1.85, 0)),
    'mf3': (('poly', [91.770, 279.204, 227.510, 546.858]), ('poly', [151.790, 432.902, 289.555, 949.099]), (-2.1, 0)),
    'shr1': (('poly', [1959.224, 1375.931, 623.474]), ('poly', [3054.678, 2370.083, 1102.353]), (-0.73, 0)),
    'shr2': (('poly', [243.207, 241.121, 531.686]), ('exp', [1150, 1.35]), (-1.53, 0)),
    'shr3': (('poly', [-198.735, -588.822, 195.114]), ('poly', [317.998, 514.572, -410.968, 415.723]), (-1.9, -0.05)),
    'sav1': (('poly', [-70.472, 504.870]), ('poly', [1556.5, 2225.425, 724.025, 928.852]), (-1.19, 0)),
    'sav2': (('poly', [-83.740, 489.357]), ('poly', [304.956, 668.667, 231.420, 877.908]), (-2.0, 0)),
    'sav3': (('poly', [57.311, 266.402, 237.071, 556.872]), ('poly', [35.014, 223.474, 221.576, 920.775]), (-2.6, 0)),
    'gra1': (('poly', [200.650, 230.048, 394.808]), ('exp', [558, 0.96]), (-1.66, 0)),
    'gra2': (('poly', [312.911, 741.561, 505.803, 440.408]), ('poly', [40.598, 436.946]), (-1.56, 0)),
    'gra3': (('poly', [130.238, 419.584, 329.122, 402.985]), ('poly', [216.476, 547.569, 301.171, 425.186]), (-2.08, -0.05)),
    'cro1': (('poly', [-485.550, -784.978, -325.332, 428.225]), ('poly', [-1172.549, -1864.795, -797.431, 591.949]), (-1.15, 0)),
    'cro2': (('poly', [46.5, 80.8, 480.0]), ('poly', [114.680, 176.027, 716.330]), (-1.85, 0)),
    'cro3': (('poly', [-33.04, 425.726]), ('poly', [-94.978, -250.690, -169.136, 647.102]), (-2.48, -0.03)),
}

# ---------------- layout ----------------
W, H = 2737, 4659
AXW = 655
COL_LEFT = [131, 1043, 1953]
ROWS = [(35, 559), (725, 1250), (1383, 1907), (2040, 2566), (2700, 3222), (3356, 3881), (4013, 4546)]


def T(x, y, s, c):
    return (x, y, s, c)


def eq2(x, y1, y2, a, b, c):
    return [T(x, y1, a, c), T(x, y2, b, c)]


O, G = ORANGE, GREEN

panels = [
    dict(key='nf1', name='NF', col=0, box=ROWS[0], xlab='SSMI-1', xlim=(-1.0, 0), xt=(0.2, 0.1, '%.1f'),
         etl=(200, 1000), ett=(200, 200), gppl=(0, 1200), gppt=(200, 100), et=nf1_et, gpp=nf1_gpp,
         texts=eq2(0.097, 0.888, 0.818, '$y$=30.941$x$+846.230', 'R$^2$=0.012 $p$=0.210', G)
         + eq2(0.097, 0.164, 0.096, '$y$=13.090$x$+466.381', 'R$^2$=0.001 $p$=0.500', O)),
    dict(key='nf2', name='NF', col=1, box=ROWS[0], xlab='SSMI-2', xlim=(-1.5, 0), xt=(0.5, 0.25, '%.1f'),
         etl=(200, 1000), ett=(200, 200), gppl=(0, 1200), gppt=(200, 100), et=nf2_et, gpp=nf2_gpp,
         texts=eq2(0.21, 0.867, 0.796, '$y$=139.449x$^3$+132.578$x^2$+26.385x+836.709', 'R$^2$=0.008 $p$=0.208', G)
         + eq2(0.07, 0.157, 0.088, '$y$=-88.923$x^2$+77.361x+437.236', 'R$^2$=0.001 $p$=0.542', O)),
    dict(key='nf3', name='NF', col=2, box=ROWS[0], xlab='SSMI-3', xlim=(-2.0, 0), xt=(0.5, 0.25, '%.1f'),
         etl=(200, 1000), ett=(200, 200), gppl=(0, 1200), gppt=(200, 100), et=nf3_et, gpp=nf3_gpp,
         texts=eq2(0.088, 0.608, 0.538, '$y$=1.984$x$+836.043', 'R$^2$=0.019 $p$=0.206', G)
         + eq2(0.048, 0.197, 0.127, '$y$=21.236$x$+462.208', 'R$^2$=0.073 $p$=0.101', O)),

    dict(key='bf1', name='BF', col=0, box=ROWS[1], xlab='SSMI-1', xlim=(-1.5, 0), xt=(0.5, 0.25, '%.1f'),
         etl=(300, 1200), ett=(400, 200), gppl=(0, 1400), gppt=(200, 100), et=bf1_et, gpp=bf1_gpp,
         texts=eq2(0.035, 0.54, 0.474, '$y$=228.289$x^2$+224.487$x$+1074.688', 'R$^2$=0.022 $p$=0.592', G)
         + eq2(0.054, 0.188, 0.12, '$y$=-59.225$x$+554.452', 'R$^2$=0.056 $p$=0.094', O)),
    dict(key='bf2', name='BF', col=1, box=ROWS[1], xlab='SSMI-2', xlim=(-2.0, 0), xt=(0.5, 0.25, '%.1f'),
         etl=(300, 1200), ett=(400, 200), gppl=(0, 1400), gppt=(200, 100), et=bf2_et, gpp=bf2_gpp,
         texts=eq2(0.224, 0.567, 0.502, '$y$=-60.851$x$+1004.274', 'R$^2$=0.035 $p$=0.191', G)
         + eq2(0.062, 0.197, 0.128, '$y$=-31.519$x$+561.947', 'R$^2$=0.043 $p$=0.146', O)),
    dict(key='bf3', name='BF', col=2, box=(726, 1264), xlab='SSMI-3', xlim=(-3.0, 0), xt=(1.0, 0.5, '%d'),
         etl=(300, 1400), ett=(400, 200), gppl=(0, 1400), gppt=(200, 100), et=bf3_et, gpp=bf3_gpp,
         texts=eq2(0.113, 0.568, 0.501, '$y$=-88.136$x$+940.721', 'R$^2$=0.185 $p$=0.082', G)
         + eq2(0.094, 0.149, 0.082, '$y$=-17.703$x$+559.772', 'R$^2$=0.034 $p$=0.193', O)),

    dict(key='mf1', name='MF', col=0, box=ROWS[2], xlab='SSMI-1', xlim=(-1.5, 0), xt=(0.5, 0.25, '%.1f'),
         etl=(350, 1200), ett=(400, 200), gppl=(0, 1200), gppt=(200, 100), et=mf1_et, gpp=mf1_gpp,
         texts=eq2(0.08, 0.624, 0.555, '$y$=174.609$x^2$+194.735$x$+959.989', 'R$^2$=0.024 $p$=0.530', G)
         + eq2(0.134, 0.398, 0.327, '$y$=185.273$x^2$+227.849$x$+556.249', 'R$^2$=0.098 $p$=0.065', O)),
    dict(key='mf2', name='MF', col=1, box=ROWS[2], xlab='SSMI-2', xlim=(-2.0, 0), xt=(0.5, 0.25, '%.1f'),
         etl=(350, 1200), ett=(400, 200), gppl=(0, 1200), gppt=(200, 100), et=mf2_et, gpp=mf2_gpp,
         texts=eq2(0.129, 0.657, 0.588, '$y$=-47.369$x$+898.401', 'R$^2$=0.028 $p$=0.218', G)
         + eq2(0.075, 0.414, 0.341, '$y$=94.035$x^3$+277.320$x^2$+202.670$x$+539.210', 'R$^2$=0.040 $p$=0.541', O)),
    dict(key='mf3', name='MF', col=2, box=ROWS[2], xlab='SSMI-3', xlim=(-2.5, 0), xt=(1.0, 0.5, '%d'),
         etl=(350, 1200), ett=(400, 200), gppl=(0, 1200), gppt=(200, 100), et=mf3_et, gpp=mf3_gpp,
         texts=eq2(0.035, 0.555, 0.486, '$y$=151.790$x^3$+432.902$x^2$+289.555$x$+949.099', 'R$^2$=0.062 $p$=0.337', G)
         + eq2(0.021, 0.378, 0.307, '$y$=91.770$x^3$+279.204$x^2$+227.510$x$+546.858', 'R$^2$=0.108 $p$=0.111', O)),

    dict(key='shr1', name='SHR', col=0, box=ROWS[3], xlab='SSMI-1', xlim=(-0.8, 0), xt=(0.2, 0.1, '%.1f'),
         etl=(100, 1200), ett=(200, 200), gppl=(0, 2000), gppt=(500, 250), et=shr1_et, gpp=shr1_gpp,
         texts=eq2(0.126, 0.736, 0.667, '$y$=3054.678$x^2$+2370.083$x$+1102.353', 'R$^2$=0.079 $p$=0.098', G)
         + eq2(0.013, 0.217, 0.148, '$y$=1959.224$x^2$+1375.931$x$+623.474', 'R$^2$=0.148 $p$=0.075', O)),
    dict(key='shr2', name='SHR', col=1, box=ROWS[3], xlab='SSMI-2', xlim=(-1.75, 0), xt=(0.5, 0.25, '%.1f'),
         etl=(100, 1200), ett=(200, 200), gppl=(0, 2000), gppt=(500, 250), et=shr2_et, gpp=shr2_gpp,
         texts=eq2(0.156, 0.765, 0.696, '$y$=542.5821$e^{-0.353x}$', 'R$^2$=0.013 $p$=0.363', G)
         + eq2(0.008, 0.294, 0.225, '$y$=243.207$x^2$+241.121$x$+531.686', 'R$^2$=0.049 $p$=0.194', O)),
    dict(key='shr3', name='SHR', col=2, box=ROWS[3], xlab='SSMI-3', xlim=(-2.25, 0), xt=(0.5, 0.25, '%.1f'),
         etl=(100, 1200), ett=(200, 200), gppl=(0, 2000), gppt=(500, 250), et=shr3_et, gpp=shr3_gpp,
         texts=eq2(0.075, 0.758, 0.692, '$y$=317.998$x^3$+514.572$x^2$-410.968$x$+415.723', 'R$^2$=0.316 $p$=0.137', G)
         + eq2(0.03, 0.229, 0.16, '$y$=-198.735$x^2$-588.822$x$+195.114', 'R$^2$=0.049 $p$=0.194', O)),

    dict(key='sav1', name='SAV', col=0, box=ROWS[4], xlab='SSMI-1', xlim=(-1.5, 0), xt=(0.5, 0.25, '%.1f'),
         etl=(300, 1200), ett=(400, 200), gppl=(0, 1590), gppt=(500, 250), et=sav1_et, gpp=sav1_gpp,
         texts=[T(0.035, 0.779, '$y$=1556.500$x^3$+2225.425$x^2$', G), T(0.075, 0.714, '+724.025$x$+928.852', G),
                T(0.04, 0.643, 'R$^2$=0.100 $p$=0.257', G)]
         + eq2(0.013, 0.239, 0.17, '$y$=-70.472$x$+504.870', 'R$^2$=0.027 $p$=0.102', O)),
    dict(key='sav2', name='SAV', col=1, box=(2725, 3249), xlab='SSMI-2', xlim=(-2.5, 0), xt=(1.0, 0.5, '%d'),
         etl=(300, 1200), ett=(400, 200), gppl=(0, 1600), gppt=(200, 100), et=sav2_et, gpp=sav2_gpp,
         texts=[T(0.008, 0.8, '$y$=304.956$x^3$+668.667$x^2$', G), T(0.04, 0.74, '+231.420$x$+877.908', G),
                T(0.008, 0.67, 'R$^2$=0.141 $p$=0.072', G)]
         + eq2(0.256, 0.146, 0.077, '$y$=-83.740$x$+489.357', 'R$^2$=0.079 $p$=0.104', O)),
    dict(key='sav3', name='SAV', col=2, box=(2731, 3260), xlab='SSMI-3', xlim=(-3.0, 0), xt=(1.0, 0.5, '%d'),
         etl=(300, 1200), ett=(400, 200), gppl=(0, 1600), gppt=(200, 100), et=sav3_et, gpp=sav3_gpp,
         texts=[T(0.41, 0.945, '$y$=35.014$x^3$+223.474$x^2$', G), T(0.445, 0.88, '+221.576$x$+920.775', G),
                T(0.41, 0.81, 'R$^2$=0.166 $p$=0.091', G),
                T(0.048, 0.203, '$y$=57.311$x^3$+266.402$x^2$', O), T(0.082, 0.137, '+237.071$x$+556.872', O),
                T(0.048, 0.07, 'R$^2$=0.200 $p$=0.072', O)]),

    dict(key='gra1', name='GRA', col=0, box=ROWS[5], xlab='SSMI-1', xlim=(-2.0, 0), xt=(0.5, 0.25, '%.1f'),
         etl=(100, 1200), ett=(200, 200), gppl=(0, 1000), gppt=(200, 100), et=gra1_et, gpp=gra1_gpp,
         texts=eq2(0.188, 0.785, 0.713, '$y$=418.293$e^{0.344x}$', 'R$^2$=0.038 $p$=0.134', G)
         + eq2(0.013, 0.559, 0.487, '$y$=200.650$x^2$+230.048$x$+394.808', 'R$^2$=0.073 $p$=0.083', O)),
    dict(key='gra2', name='GRA', col=1, box=ROWS[5], xlab='SSMI-2', xlim=(-2.0, 0), xt=(0.5, 0.25, '%.1f'),
         etl=(100, 1200), ett=(200, 200), gppl=(0, 1200), gppt=(200, 100), et=gra2_et, gpp=gra2_gpp,
         texts=eq2(0.518, 0.825, 0.754, '$y$=40.598$x$+436.946', 'R$^2$=0.007 $p$=0.373', G)
         + [T(0.008, 0.652, '$y$=312.911$x^3$+741.561$x^2$', O), T(0.04, 0.587, '+505.803$x$+440.408', O),
            T(0.008, 0.518, 'R$^2$=0.049 $p$=0.122', O)]),
    dict(key='gra3', name='GRA', col=2, box=ROWS[5], xlab='SSMI-3', xlim=(-2.5, 0), xt=(0.5, 0.25, '%.1f'),
         etl=(100, 1200), ett=(200, 200), gppl=(0, 1000), gppt=(200, 100), et=gra3_et, gpp=gra3_gpp,
         texts=[T(0.088, 0.823, '$y$=216.476$x^3$+547.569$x^2$', G), T(0.129, 0.762, '+301.171$x$+425.186', G),
                T(0.092, 0.691, 'R$^2$=0.036 $p$=0.232', G),
                T(0.021, 0.172, '$y$=130.238$x^3$+419.584$x^2$', O), T(0.056, 0.107, '+329.122$x$+402.985', O),
                T(0.03, 0.038, 'R$^2$=0.059 $p$=0.073', O)]),

    dict(key='cro1', name='CRO', col=0, box=ROWS[6], xlab='SSMI-1', xlim=(-1.5, 0), xt=(0.5, 0.25, '%.1f'),
         etl=(240, 1200), ett=(400, 200), gppl=(0, 1200), gppt=(200, 100), et=cro1_et, gpp=cro1_gpp,
         texts=[T(0.116, 0.887, '$y$=-1172.549$x^3$-1864.795$x^2$', G), T(0.148, 0.822, '-797.431$x$+591.949', G),
                T(0.116, 0.754, 'R$^2$=0.073 $p$=0.063', G),
                T(0.008, 0.503, '$y$=-485.550$x^3$-784.978$x^2$', O), T(0.04, 0.44, '-325.332$x$+428.225', O),
                T(0.008, 0.376, 'R$^2$=0.036 $p$=0.225', O)]),
    dict(key='cro2', name='CRO', col=1, box=ROWS[6], xlab='SSMI-2', xlim=(-2.0, 0), xt=(0.5, 0.25, '%.1f'),
         etl=(240, 1200), ett=(400, 200), gppl=(0, 1200), gppt=(200, 100), et=cro2_et, gpp=cro2_gpp,
         texts=eq2(0.264, 0.9, 0.831, '$y$=114.680$x^2$+176.027$x$+716.330', 'R$^2$=0.053 $p$=0.094', G)
         + [T(0.03, 0.476, '$y$=-33.035$x^3$-40.284$x^2$', O), T(0.062, 0.413, '-24.095$x$+472.501', O),
            T(0.035, 0.348, 'R$^2$=0.027 $p$=0.073', O)]),
    dict(key='cro3', name='CRO', col=2, box=ROWS[6], xlab='SSMI-3', xlim=(-3.0, 0), xt=(0.5, 0.25, '%.1f'),
         etl=(240, 1200), ett=(400, 200), gppl=(0, 1200), gppt=(200, 100), et=cro3_et, gpp=cro3_gpp,
         texts=[T(0.228, 0.912, '$y$=-94.978$x^3$-250.690$x^2$', G), T(0.263, 0.85, '-169.136$x$+647.102', G),
                T(0.228, 0.781, 'R$^2$=0.073 $p$=0.130', G)]
         + eq2(0.048, 0.192, 0.123, '$y$=-33.04$x$+425.726', 'R$^2$=0.047 $p$=0.161', O)),
]


def curve(fit, x0, x1):
    xs = np.linspace(x0, x1, 200)
    kind, c = fit
    if kind == 'exp':
        return xs, c[0] * np.exp(c[1] * xs)
    return xs, np.polyval(c, xs)


def fmt(f):
    return FuncFormatter(lambda v, pos: f % (0.0 if abs(v) < 1e-9 else v))


def draw(fig, p):
    top, bot = p['box']
    ax = fig.add_axes([COL_LEFT[p['col']] / W, 1 - bot / H, AXW / W, (bot - top) / H])
    ax2 = ax.twinx()

    ax.scatter(p['et'][:, 0], p['et'][:, 1], s=78, color=ORANGE, edgecolors='none', zorder=3)
    ax2.scatter(p['gpp'][:, 0], p['gpp'][:, 1], s=78, color=GREEN, edgecolors='none', zorder=3)

    et_fit, gpp_fit, (x0, x1) = fits[p['key']]
    dash = (0, (2.4, 1.8))
    ax.plot(*curve(et_fit, x0, x1), color='#222222', lw=2.2, linestyle=dash, zorder=4)
    ax2.plot(*curve(gpp_fit, x0, x1), color='#222222', lw=2.2, linestyle=dash, zorder=4)

    ax.set_xlim(*p['xlim'])
    ax.xaxis.set_major_locator(MultipleLocator(p['xt'][0]))
    ax.xaxis.set_minor_locator(MultipleLocator(p['xt'][1]))
    ax.xaxis.set_major_formatter(fmt(p['xt'][2]))

    ax.set_ylim(*p['etl'])
    ax.set_yticks(np.arange(p['ett'][0], p['etl'][1] + 1, p['ett'][1]))
    ax.yaxis.set_minor_locator(MultipleLocator(100))
    ax2.set_ylim(*p['gppl'])
    ax2.set_yticks(np.arange(0, p['gppl'][1] + 1, p['gppt'][0]))
    ax2.yaxis.set_minor_locator(MultipleLocator(p['gppt'][1]))

    ax.tick_params(axis='x', which='major', direction='out', length=6.5, width=1.6, labelsize=17.5, colors='black', pad=6)
    ax.tick_params(axis='x', which='minor', direction='out', length=4, width=1.3, colors='black')
    ax.tick_params(axis='y', which='major', direction='out', length=6, width=1.3, labelsize=17, colors=ORANGE, pad=3)
    ax.tick_params(axis='y', which='minor', direction='out', length=3.5, width=1.1, colors=ORANGE)
    ax2.tick_params(axis='y', which='major', direction='out', length=6, width=1.3, labelsize=17, colors=GREEN, pad=3)
    ax2.tick_params(axis='y', which='minor', direction='out', length=3.5, width=1.1, colors=GREEN)

    sec = ax.secondary_xaxis('top')
    sec.xaxis.set_major_locator(MultipleLocator(p['xt'][0]))
    sec.xaxis.set_minor_locator(MultipleLocator(p['xt'][1]))
    sec.xaxis.set_major_formatter(NullFormatter())
    sec.tick_params(which='major', direction='in', length=6.5, width=1.6, colors='black')
    sec.tick_params(which='minor', direction='in', length=5, width=1.3, colors='black')
    sec.spines['top'].set_linewidth(2.0)

    ax.spines['left'].set_color(ORANGE)
    ax.spines['left'].set_linewidth(1.5)
    ax.spines['right'].set_visible(False)
    ax.spines['top'].set_linewidth(2.0)
    ax.spines['bottom'].set_linewidth(2.2)
    ax.spines['bottom'].set_color('#333333')
    for s in ('left', 'top', 'bottom'):
        ax2.spines[s].set_visible(False)
    ax2.spines['right'].set_color(GREEN)
    ax2.spines['right'].set_linewidth(1.5)

    ax.set_xlabel(p['xlab'], fontsize=19, labelpad=13)
    ax.set_ylabel('ET(mm)', fontsize=19, fontweight='bold', labelpad=10)
    ax2.set_ylabel(r'GPP(g C kg$^{\mathbf{-1}}$)', fontsize=19, fontweight='bold', labelpad=12)

    ax2.text(0.012, 0.955, p['name'], transform=ax.transAxes, fontsize=18, fontweight='bold',
             ha='left', va='center', color='#111111')
    for x, y, s, c in p['texts']:
        ax2.text(x, y, s, transform=ax.transAxes, fontsize=20.5, ha='left', va='center', color=c, zorder=6)


fig = plt.figure(figsize=(W / 100, H / 100), dpi=100)
fig.patch.set_facecolor('white')
for p in panels:
    draw(fig, p)

fig.savefig('out.png', dpi=100, facecolor='white')
